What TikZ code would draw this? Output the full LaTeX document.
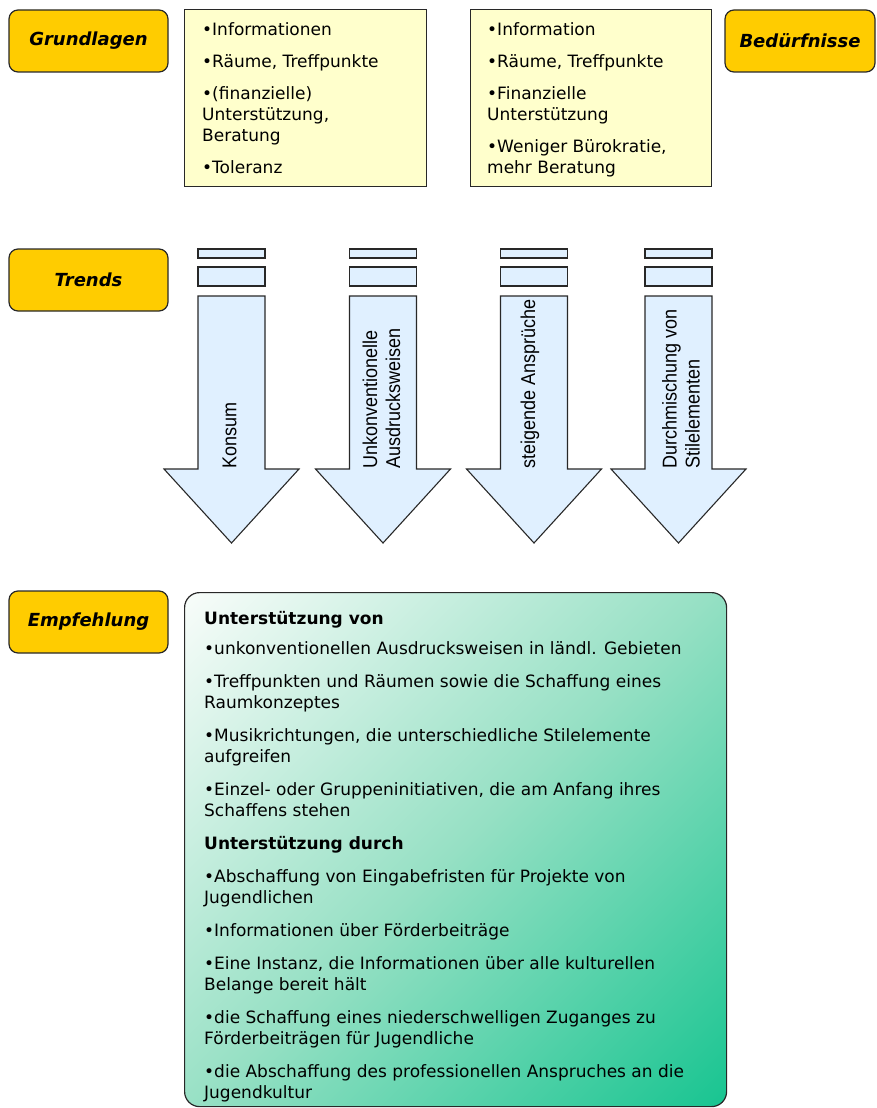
\documentclass[tikz,border=0pt]{standalone}
\usepackage{fontspec}
\setmainfont{DejaVu Sans}
\newfontfamily\arialf{Liberation Sans}
\definecolor{labelgold}{RGB}{255,204,0}
\definecolor{noteyellow}{RGB}{255,255,204}
\definecolor{arrowblue}{RGB}{224,240,255}
\definecolor{tealend}{RGB}{22,196,144}
\definecolor{tealmid}{RGB}{150,224,196}
\definecolor{tealstart}{RGB}{250,253,251}
\definecolor{edgegray}{RGB}{40,40,40}
\pgfdeclareverticalshading{recgrad}{100bp}{color(0bp)=(tealend); color(14bp)=(tealend);
  color(50bp)=(tealmid); color(86bp)=(tealstart); color(100bp)=(tealstart)}
\begin{document}
\begin{tikzpicture}[x=1pt,y=-1pt,
  catbox/.style={draw=edgegray, line width=1.2pt, fill=labelgold, rounded corners=9pt,
    minimum width=159pt, minimum height=62pt, inner sep=0pt,
    font=\fontsize{18}{20}\selectfont\bfseries\itshape},
  notebox/.style={draw=edgegray, line width=1.2pt, fill=noteyellow, inner sep=0pt, anchor=north west},
  bodytext/.style={anchor=north west, inner sep=0pt, align=left,
    font=\fontsize{17}{21}\selectfont},
  arrowpart/.style={draw=edgegray, line width=1.1pt, fill=arrowblue},
  arrowtext/.style={rotate=90, anchor=west, inner sep=0pt, align=left, xscale=0.9,
    font=\arialf\fontsize{20}{23}\selectfont}
]
\useasboundingbox (0,0) rectangle (876,1108);

% category labels
\node[catbox] (grundlagen) at (88.5,41) {Grundlagen};
\node[catbox] (trends) at (88.5,280) {Trends};
\node[catbox] (empfehlung) at (88.5,622) {Empfehlung};
\node[catbox, minimum width=150pt] (beduerfnisse) at (800,41) {Bedürfnisse};

% top note boxes
\node[notebox, minimum width=242pt, minimum height=177pt] (gbox) at (184,9) {};
\node[notebox, minimum width=241pt, minimum height=177pt] (bbox) at (470,9) {};
\node[bodytext] (gtext) at (202,22) {•Informationen\\[11pt]•Räume, Treffpunkte\\[11pt]•(finanzielle)\\Unterstützung,\\Beratung\\[11pt]•Toleranz};
\node[bodytext] (btext) at (487,22) {•Information\\[11pt]•Räume, Treffpunkte\\[11pt]•Finanzielle\\Unterstützung\\[11pt]•Weniger Bürokratie,\\mehr Beratung};

% trend arrows
\foreach \cx in {231.5,383,534,678.5} {
  \draw[arrowpart] (\cx-33.5,249) rectangle (\cx+33.5,258);
  \draw[arrowpart] (\cx-33.5,267) rectangle (\cx+33.5,286);
  \draw[arrowpart] (\cx-33.5,296) -- (\cx+33.5,296) -- (\cx+33.5,469) -- (\cx+67.5,469)
     -- (\cx,543) -- (\cx-67.5,469) -- (\cx-33.5,469) -- cycle;
}
\node[arrowtext] (konsum) at (229.5,469) {Konsum};
\node[arrowtext] (unkonv) at (381.5,469) {Unkonventionelle\\Ausdrucksweisen};
\node[arrowtext] (steigend) at (530,469) {steigende Ansprüche};
\node[arrowtext] (durchm) at (681,469) {Durchmischung von\\Stilelementen};

% recommendation box
\node[draw=edgegray, line width=1.2pt, rounded corners=15pt, anchor=north west,
  minimum width=542pt, minimum height=514pt, inner sep=0pt,
  shading=recgrad, shading angle=45] (rbox) at (184,592) {};
\node[bodytext] (rtext) at (204,611) {\textbf{Unterstützung von}\\[9pt]
•unkonventionellen Ausdrucksweisen in ländl. Gebieten\\[12pt]
•Treffpunkten und Räumen sowie die Schaffung eines\\Raumkonzeptes\\[12pt]
•Musikrichtungen, die unterschiedliche Stilelemente\\aufgreifen\\[12pt]
•Einzel- oder Gruppeninitiativen, die am Anfang ihres\\Schaffens stehen\\[12pt]
\textbf{Unterstützung durch}\\[12pt]
•Abschaffung von Eingabefristen für Projekte von\\Jugendlichen\\[12pt]
•Informationen über Förderbeiträge\\[12pt]
•Eine Instanz, die Informationen über alle kulturellen\\Belange bereit hält\\[12pt]
•die Schaffung eines niederschwelligen Zuganges zu\\Förderbeiträgen für Jugendliche\\[12pt]
•die Abschaffung des professionellen Anspruches an die\\Jugendkultur};
\end{tikzpicture}
\end{document}
